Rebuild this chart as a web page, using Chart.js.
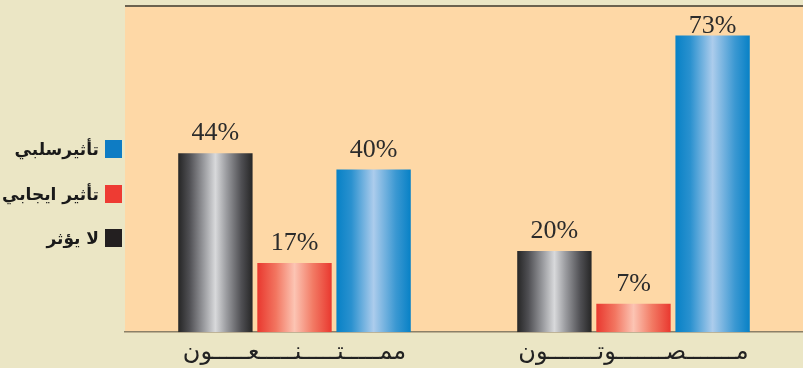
<!DOCTYPE html>
<html><head><meta charset="utf-8">
<script src="https://cdn.jsdelivr.net/npm/chart.js@4/dist/chart.umd.min.js"></script>
<style>
html,body{margin:0;padding:0;background:#ebe6c5;}
#wrap{position:relative;width:803px;height:368px;background:#ebe6c5;overflow:hidden;}
#c{position:absolute;left:0;top:0;}
#legend{position:absolute;left:0;top:0;width:124px;height:368px;}
.item{position:absolute;right:2px;display:flex;align-items:center;direction:rtl;}
.box{width:17px;height:18px;margin-left:6px;}
.lab{font:bold 17px "DejaVu Sans";color:#1a1a1a;white-space:nowrap;}
</style></head>
<body>
<div id="wrap">
<canvas id="c" width="803" height="368"></canvas>
<div id="legend"></div>
</div>
<script>
// ---- data ----
const categories = ['ممـــــتـــــنـــــعـــــون', 'مـــــــصـــــــوتـــــــون'];
const seriesNames = ['لا يؤثر', 'تأثير ايجابي', 'تأثيرسلبي'];
const noEffect = [44, 20];
const positiveEffect = [17, 7];
const negativeEffect = [40, 73];
const legendOrder = [2, 1, 0];
const yMax = 80;

// ---- styles ----
const swatch = ['#231f20', '#ee3b33', '#0e7cc4'];
const gradStops = [
  [[0,'#262626'],[0.15,'#4f4f53'],[0.35,'#9c9da1'],[0.5,'#d8d9db'],[0.65,'#9a9b9f'],[0.85,'#4f4f53'],[1,'#262626']],
  [[0,'#e9382f'],[0.25,'#f27560'],[0.5,'#fcc4b3'],[0.75,'#f27a64'],[1,'#e9382f']],
  [[0,'#0781c6'],[0.2,'#2a91cf'],[0.5,'#acccec'],[0.8,'#3b98d2'],[1,'#0781c6']]
];
function grad(stops, fallback){
  return (c) => {
    const el = c.element;
    if (!el || !isFinite(el.x) || !isFinite(el.width)) return fallback;
    const g = c.chart.ctx.createLinearGradient(el.x - el.width/2, 0, el.x + el.width/2, 0);
    stops.forEach(([o, col]) => g.addColorStop(o, col));
    return g;
  };
}
const seriesData = [noEffect, positiveEffect, negativeEffect];

const bgPlugin = {
  id: 'bg',
  beforeDraw(chart){
    const {ctx, chartArea:a} = chart;
    ctx.save();
    ctx.fillStyle = '#ebe6c5';
    ctx.fillRect(0, 0, chart.width, chart.height);
    ctx.fillStyle = '#fed8a6';
    ctx.fillRect(a.left, a.top, a.right - a.left, a.bottom - a.top);
    ctx.fillStyle = '#6b624f';
    ctx.fillRect(a.left, a.top - 2, a.right - a.left, 2);
    ctx.restore();
  }
};
const labelPlugin = {
  id: 'vals',
  afterDatasetsDraw(chart){
    const ctx = chart.ctx;
    ctx.save();
    ctx.font = '26px "Liberation Serif"';
    ctx.fillStyle = '#2b2b2b';
    ctx.textAlign = 'center';
    ctx.textBaseline = 'alphabetic';
    chart.data.datasets.forEach((ds, di) => {
      chart.getDatasetMeta(di).data.forEach((el, i) => {
        const y = Math.max(el.y - 13, chart.chartArea.top + 26);
        ctx.fillText(ds.data[i] + '%', el.x, y);
      });
    });
    ctx.restore();
  }
};

const chart = new Chart(document.getElementById('c'), {
  type: 'bar',
  data: {
    labels: categories,
    datasets: seriesData.map((d, i) => ({
      label: seriesNames[i],
      data: d,
      backgroundColor: grad(gradStops[i], swatch[i]),
      borderWidth: 0,
      categoryPercentage: 0.70,
      barPercentage: 0.94
    }))
  },
  options: {
    responsive: false,
    animation: false,
    events: [],
    layout: {padding: {left: 125, right: 0, top: 7, bottom: -5}},
    plugins: {legend: {display: false}, tooltip: {enabled: false}},
    scales: {
      x: {
        grid: {display: false, drawTicks: false},
        border: {display: true, color: '#8b8068', width: 1.5},
        ticks: {font: {family: 'DejaVu Sans', size: 24}, color: '#222', padding: 6}
      },
      y: {display: false, min: 0, max: yMax}
    }
  },
  plugins: [bgPlugin, labelPlugin]
});
chart.update('none');

// ---- legend ----
const leg = document.getElementById('legend');
legendOrder.forEach((si, k) => {
  const it = document.createElement('div');
  it.className = 'item';
  it.style.top = (139 + k * 44.5) + 'px';
  const b = document.createElement('div');
  b.className = 'box'; b.style.background = swatch[si];
  const t = document.createElement('span');
  t.className = 'lab'; t.textContent = seriesNames[si];
  it.appendChild(b); it.appendChild(t);
  leg.appendChild(it);
});
</script>
</body></html>
